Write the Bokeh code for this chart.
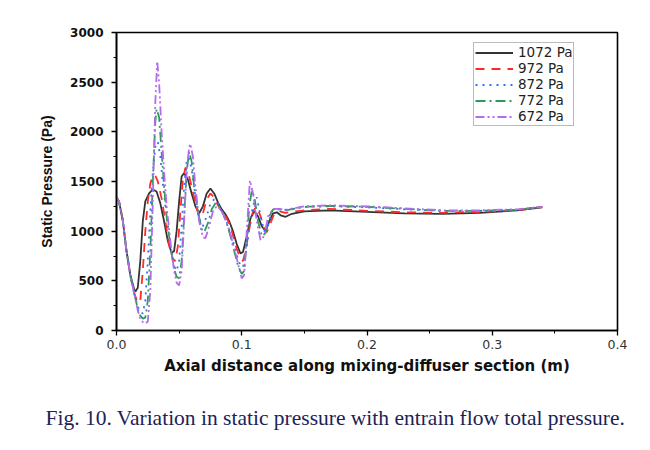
from bokeh.plotting import figure
from bokeh.models import Range1d, SingleIntervalTicker, PrintfTickFormatter, Title, Legend, LegendItem
from bokeh.embed import file_html
from bokeh.resources import INLINE

# ---- data ----
x_1072 = [0, 0.002, 0.005, 0.008, 0.011, 0.014, 0.015, 0.017, 0.019, 0.021, 0.023, 0.026, 0.029, 0.032,
          0.035, 0.038, 0.041, 0.044, 0.046, 0.048, 0.050, 0.052, 0.054, 0.057, 0.060, 0.063, 0.066,
          0.069, 0.072, 0.075, 0.078, 0.081, 0.084, 0.087, 0.090, 0.093, 0.096, 0.099, 0.101, 0.104,
          0.107, 0.110, 0.113, 0.116, 0.119, 0.122, 0.125, 0.128, 0.131, 0.135, 0.14, 0.15, 0.17,
          0.2, 0.23, 0.26, 0.29, 0.32, 0.34]
p_1072 = [1340, 1300, 1110, 800, 560, 420, 390, 430, 700, 1100, 1300, 1380, 1420, 1400,
          1280, 1100, 900, 780, 800, 1000, 1300, 1550, 1585, 1520, 1380, 1250, 1180,
          1250, 1380, 1430, 1380, 1290, 1220, 1170, 1100, 1000, 870, 775, 790, 950,
          1130, 1200, 1150, 1050, 1000, 1100, 1180, 1190, 1160, 1145, 1175, 1200, 1210,
          1195, 1180, 1175, 1185, 1210, 1240]

x_972 = [0, 0.002, 0.005, 0.008, 0.011, 0.014, 0.017, 0.019, 0.021, 0.023, 0.025, 0.027, 0.029, 0.031,
         0.033, 0.036, 0.039, 0.042, 0.045, 0.047, 0.049, 0.051, 0.053, 0.055, 0.057, 0.060, 0.063,
         0.066, 0.069, 0.072, 0.075, 0.078, 0.081, 0.084, 0.087, 0.090, 0.093, 0.096, 0.099, 0.101,
         0.103, 0.106, 0.109, 0.112, 0.115, 0.118, 0.120, 0.123, 0.126, 0.130, 0.135, 0.14, 0.15,
         0.17, 0.2, 0.23, 0.26, 0.29, 0.32, 0.34]
p_972 = [1340, 1300, 1110, 800, 560, 380, 280, 300, 600, 1000, 1300, 1480, 1560, 1560,
         1500, 1330, 1100, 860, 720, 700, 850, 1200, 1520, 1640, 1600, 1450, 1280,
         1140, 1180, 1320, 1380, 1340, 1260, 1200, 1150, 1080, 960, 820, 720, 700,
         800, 1020, 1200, 1250, 1150, 1020, 990, 1080, 1180, 1200, 1185, 1195, 1210,
         1225, 1205, 1190, 1185, 1195, 1210, 1245]

x_872 = [0, 0.002, 0.005, 0.008, 0.011, 0.014, 0.017, 0.019, 0.021, 0.023, 0.025, 0.027, 0.029, 0.031,
         0.033, 0.035, 0.037, 0.040, 0.043, 0.046, 0.048, 0.050, 0.052, 0.054, 0.056, 0.058, 0.060,
         0.063, 0.066, 0.069, 0.072, 0.075, 0.078, 0.081, 0.084, 0.087, 0.090, 0.093, 0.096, 0.099,
         0.101, 0.103, 0.106, 0.109, 0.112, 0.115, 0.118, 0.121, 0.124, 0.128, 0.135, 0.15, 0.17,
         0.2, 0.23, 0.26, 0.29, 0.32, 0.34]
p_872 = [1340, 1300, 1110, 800, 560, 380, 240, 190, 170, 300, 700, 1200, 1600, 1850,
         1900, 1750, 1480, 1150, 850, 650, 600, 700, 1050, 1450, 1700, 1740, 1620,
         1350, 1120, 1050, 1150, 1280, 1320, 1280, 1200, 1120, 1020, 900, 760, 650,
         640, 760, 1020, 1260, 1340, 1150, 1000, 1060, 1200, 1220, 1215, 1245, 1250,
         1240, 1220, 1205, 1205, 1215, 1245]

x_772 = [0, 0.002, 0.005, 0.008, 0.011, 0.014, 0.017, 0.019, 0.021, 0.023, 0.025, 0.027, 0.029, 0.031,
         0.032, 0.034, 0.036, 0.038, 0.040, 0.043, 0.046, 0.048, 0.050, 0.052, 0.054, 0.056, 0.058,
         0.060, 0.062, 0.065, 0.068, 0.070, 0.073, 0.076, 0.079, 0.082, 0.085, 0.088, 0.091, 0.094,
         0.097, 0.100, 0.102, 0.104, 0.106, 0.108, 0.110, 0.113, 0.116, 0.119, 0.122, 0.125, 0.13,
         0.135, 0.15, 0.17, 0.2, 0.23, 0.26, 0.29, 0.32, 0.34]
p_772 = [1340, 1300, 1110, 800, 560, 380, 220, 150, 120, 130, 300, 800, 1500, 2100,
         2230, 2150, 1800, 1450, 1150, 850, 620, 540, 525, 700, 1150, 1600, 1800,
         1700, 1450, 1200, 1020, 990, 1080, 1220, 1280, 1250, 1180, 1080, 950, 800,
         650, 570, 600, 900, 1250, 1410, 1350, 1100, 950, 980, 1150, 1220, 1220,
         1210, 1245, 1255, 1245, 1225, 1205, 1205, 1215, 1245]

x_672 = [0, 0.002, 0.005, 0.008, 0.011, 0.014, 0.017, 0.019, 0.021, 0.023, 0.025, 0.027, 0.029, 0.031,
         0.0325, 0.034, 0.036, 0.038, 0.040, 0.043, 0.046, 0.048, 0.050, 0.052, 0.054, 0.056, 0.058,
         0.059, 0.061, 0.063, 0.066, 0.069, 0.071, 0.074, 0.077, 0.080, 0.083, 0.086, 0.089, 0.092,
         0.095, 0.098, 0.100, 0.102, 0.104, 0.1065, 0.109, 0.112, 0.115, 0.118, 0.121, 0.125, 0.13,
         0.135, 0.15, 0.17, 0.2, 0.23, 0.26, 0.29, 0.32, 0.34]
p_672 = [1340, 1300, 1110, 800, 560, 380, 200, 120, 85, 70, 90, 400, 1300, 2300,
         2710, 2500, 2000, 1600, 1250, 900, 600, 480, 455, 600, 1100, 1600, 1850,
         1880, 1750, 1450, 1100, 940, 930, 1050, 1200, 1250, 1220, 1150, 1050, 920,
         780, 620, 525, 560, 1000, 1510, 1380, 1100, 910, 950, 1150, 1225, 1225,
         1215, 1250, 1260, 1250, 1230, 1210, 1210, 1220, 1245]

labels = ["1072 Pa", "972 Pa", "872 Pa", "772 Pa", "672 Pa"]
x_ticks_interval = 0.1
y_ticks_interval = 500
caption = "Fig. 10. Variation in static pressure with entrain flow total pressure."

# ---- figure ----
p = figure(frame_width=501, frame_height=298, output_backend="svg", toolbar_location=None,
           x_range=Range1d(0, 0.4), y_range=Range1d(0, 3000),
           min_border_left=116, min_border_right=33, min_border_top=32, min_border_bottom=120)
p.grid.visible = False
p.outline_line_color = "black"
p.outline_line_width = 1.6
p.background_fill_color = "white"
p.border_fill_color = "white"

series = [(x_1072, p_1072, "#333333", "solid"),
          (x_972, p_972, "#ff2a2a", "9 7"),
          (x_872, p_872, "#2f6fff", "2 5"),
          (x_772, p_772, "#2e9a5a", "10 4 2 4"),
          (x_672, p_672, "#b36bf0", "9 3 2 3 2 3")]
items = []
for (xs, ys, c, d), lab in zip(series, labels):
    r = p.line(xs, ys, line_color=c, line_width=1.8, line_dash=d)
    items.append(LegendItem(label=lab, renderers=[r]))

leg = Legend(items=items, location=(357, 204))
leg.border_line_color = "#777777"
leg.border_line_width = 1.5
leg.padding = 1
leg.margin = 0
leg.spacing = 0
leg.label_height = 15
leg.glyph_height = 15
leg.glyph_width = 38
leg.label_standoff = 5
leg.label_text_font = "DejaVu Sans"
leg.label_text_font_size = "13.5px"
leg.label_text_line_height = 1.0
leg.label_text_color = "#222222"
leg.background_fill_alpha = 1
p.add_layout(leg)

# axes
p.xaxis.ticker = SingleIntervalTicker(interval=x_ticks_interval, num_minor_ticks=2)
p.yaxis.ticker = SingleIntervalTicker(interval=y_ticks_interval, num_minor_ticks=2)
p.xaxis.formatter = PrintfTickFormatter(format="%.1f")
for ax in (p.xaxis[0], p.yaxis[0]):
    ax.axis_line_color = "black"
    ax.axis_line_width = 1.6
    ax.major_tick_line_color = "black"
    ax.minor_tick_line_color = "black"
    ax.major_tick_line_width = 1.3
    ax.minor_tick_line_width = 1.0
    ax.major_tick_out = 5
    ax.major_tick_in = 0
    ax.minor_tick_out = 3
    ax.minor_tick_in = 0

p.yaxis.major_label_text_font = "DejaVu Sans"
p.yaxis.major_label_text_font_style = "bold"
p.yaxis.major_label_text_font_size = "12px"
p.yaxis.major_label_text_color = "#111111"
p.yaxis.major_label_standoff = 8
p.yaxis.axis_label = "Static Pressure (Pa)"
p.yaxis.axis_label_text_font = "Liberation Sans"
p.yaxis.axis_label_text_font_style = "bold"
p.yaxis.axis_label_text_font_size = "14px"
p.yaxis.axis_label_text_color = "#111111"
p.yaxis.axis_label_standoff = 12

p.xaxis.major_label_text_font = "DejaVu Sans"
p.xaxis.major_label_text_font_style = "normal"
p.xaxis.major_label_text_font_size = "12.5px"
p.xaxis.major_label_text_color = "#333333"
p.xaxis.major_label_standoff = 4
p.xaxis.axis_label = "Axial distance along mixing-diffuser section (m)"
p.xaxis.axis_label_text_font = "DejaVu Sans"
p.xaxis.axis_label_text_font_style = "bold"
p.xaxis.axis_label_text_font_size = "15px"
p.xaxis.axis_label_text_color = "#111111"
p.xaxis.axis_label_standoff = 5

cap = Title(text=caption, align="left", text_font="Liberation Serif", text_font_size="21.5px",
            text_color="#1c2257", text_font_style="normal", standoff=52, offset=-71)
p.add_layout(cap, "below")

open("out.html", "w").write(file_html(p, INLINE))
